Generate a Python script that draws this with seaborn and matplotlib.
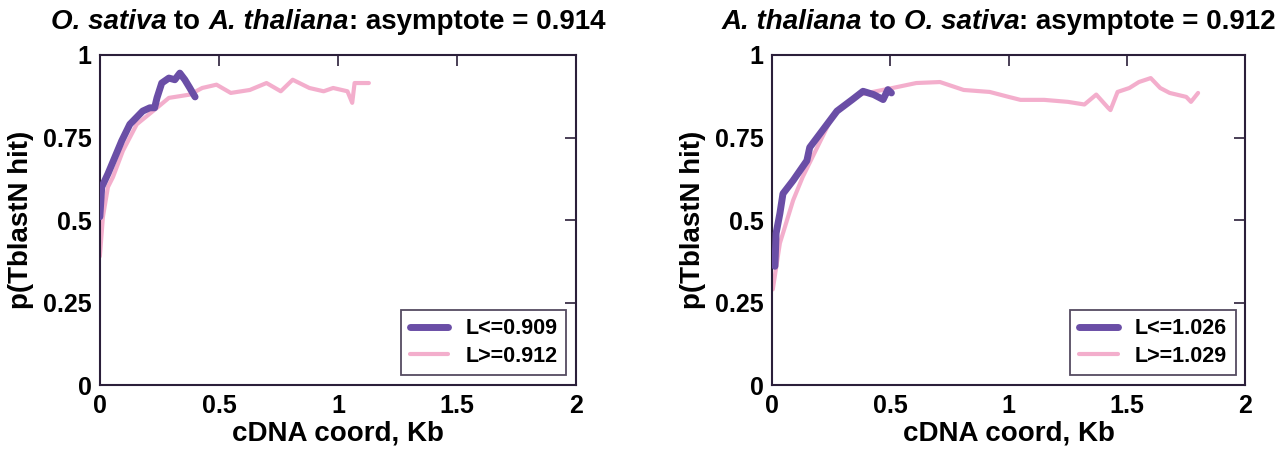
import matplotlib
matplotlib.use("Agg")
from matplotlib import pyplot as plt
import seaborn as sns
import pandas as pd

FAM = ["Liberation Sans Narrow", "Liberation Sans", "DejaVu Sans"]

# left panel: O. sativa to A. thaliana
os_short_x = [0.0, 0.008, 0.034, 0.063, 0.092, 0.126, 0.18, 0.21, 0.23, 0.24, 0.26, 0.29, 0.315, 0.336, 0.357, 0.378, 0.39, 0.40]
os_short_y = [0.51, 0.60, 0.64, 0.69, 0.74, 0.79, 0.83, 0.84, 0.84, 0.87, 0.915, 0.93, 0.925, 0.945, 0.925, 0.90, 0.885, 0.873]
os_long_x = [0.0, 0.013, 0.034, 0.055, 0.097, 0.155, 0.24, 0.29, 0.378, 0.43, 0.49, 0.55, 0.63, 0.70, 0.76, 0.81, 0.88, 0.94, 0.98, 1.04, 1.06, 1.07, 1.13]
os_long_y = [0.39, 0.51, 0.60, 0.63, 0.71, 0.79, 0.84, 0.87, 0.88, 0.90, 0.91, 0.885, 0.894, 0.915, 0.89, 0.925, 0.90, 0.89, 0.90, 0.89, 0.855, 0.915, 0.915]

# right panel: A. thaliana to O. sativa
at_short_x = [0.013, 0.018, 0.034, 0.047, 0.09, 0.148, 0.16, 0.275, 0.34, 0.385, 0.43, 0.47, 0.49, 0.505]
at_short_y = [0.36, 0.46, 0.52, 0.58, 0.62, 0.68, 0.72, 0.83, 0.865, 0.89, 0.88, 0.865, 0.895, 0.885]
at_long_x = [0.004, 0.034, 0.09, 0.13, 0.26, 0.37, 0.51, 0.61, 0.71, 0.81, 0.92, 1.0, 1.05, 1.15, 1.25, 1.32, 1.37, 1.42, 1.43, 1.46, 1.51, 1.55, 1.60, 1.64, 1.68, 1.75, 1.77, 1.80]
at_long_y = [0.29, 0.43, 0.56, 0.63, 0.82, 0.88, 0.90, 0.915, 0.918, 0.894, 0.888, 0.873, 0.864, 0.864, 0.858, 0.85, 0.88, 0.84, 0.833, 0.888, 0.90, 0.918, 0.93, 0.90, 0.885, 0.873, 0.858, 0.885]

panels = [
    (("O. sativa", " to ", "A. thaliana", ": asymptote = 0.914"),
     os_short_x, os_short_y, os_long_x, os_long_y, "L<=0.909", "L>=0.912"),
    (("A. thaliana", " to ", "O. sativa", ": asymptote = 0.912"),
     at_short_x, at_short_y, at_long_x, at_long_y, "L<=1.026", "L>=1.029"),
]

xticks = [0, 0.5, 1, 1.5, 2]
xticklabels = ["0", "0.5", "1", "1.5", "2"]
yticks = [0, 0.25, 0.5, 0.75, 1]
yticklabels = ["0", "0.25", "0.5", "0.75", "1"]

PURPLE = "#6a4ea6"
PINK = "#f2a0c4"
FRAME = "#2b1f3a"

sns.set_style("white")
plt.rcParams["font.family"] = FAM
plt.rcParams["font.weight"] = "bold"
plt.rcParams["text.color"] = "black"
plt.rcParams["axes.labelcolor"] = "black"
plt.rcParams["xtick.color"] = "black"
plt.rcParams["ytick.color"] = "black"

fig = plt.figure(figsize=(12.8, 4.58), dpi=100)
axes = [fig.add_axes([0.078, 0.159, 0.372, 0.721]),
        fig.add_axes([0.603, 0.159, 0.370, 0.721])]


def rich_title(ax, parts, ypos=0.952, size=20, shift=-10):
    fig.canvas.draw()
    r = fig.canvas.get_renderer()
    texts = []
    for i, s in enumerate(parts):
        style = "italic" if i % 2 == 0 else "normal"
        texts.append(fig.text(0, ypos, s, fontsize=size, fontweight="bold",
                              style=style, family=FAM, va="center", color="black"))
    widths = [t.get_window_extent(r).width for t in texts]
    box = ax.get_position()
    W = fig.get_size_inches()[0] * fig.dpi
    x = (box.x0 + box.x1) / 2 * W - sum(widths) / 2 + shift
    for t, w in zip(texts, widths):
        t.set_x(x / W)
        x += w


for ax, (title, sx, sy, lx, ly, lab_s, lab_l) in zip(axes, panels):
    long_df = pd.DataFrame({"x": lx, "y": ly})
    short_df = pd.DataFrame({"x": sx, "y": sy})
    sns.lineplot(data=long_df, x="x", y="y", sort=False, ax=ax, color=PINK,
                 lw=3, alpha=0.85, label=lab_l, zorder=2)
    sns.lineplot(data=short_df, x="x", y="y", sort=False, ax=ax, color=PURPLE,
                 lw=5, label=lab_s, zorder=3)
    ax.set_xlim(0, 2)
    ax.set_ylim(0, 1)
    ax.set_xticks(xticks)
    ax.set_xticklabels(xticklabels)
    ax.set_yticks(yticks)
    ax.set_yticklabels(yticklabels)
    ax.tick_params(direction="in", length=8, width=1.2, color=FRAME,
                   labelcolor="black", top=True, right=True, labelsize=18, pad=6)
    for sp in ax.spines.values():
        sp.set_color(FRAME)
        sp.set_linewidth(1.5)
    ax.set_xlabel("cDNA coord, Kb", fontsize=20, fontweight="bold", labelpad=2)
    ax.set_ylabel("p(TblastN hit)", fontsize=20, fontweight="bold", labelpad=6)
    h, l = ax.get_legend_handles_labels()
    leg = ax.legend(h[::-1], l[::-1], loc="lower right", fontsize=15.5,
                    frameon=True, fancybox=False, handlelength=1.8,
                    borderaxespad=0.45, labelspacing=0.3, edgecolor=FRAME)
    leg.get_frame().set_linewidth(1.3)
    for t in leg.get_texts():
        t.set_fontweight("bold")
        t.set_color("black")

for ax, p in zip(axes, panels):
    rich_title(ax, p[0])

fig.savefig("out.png", dpi=100)
